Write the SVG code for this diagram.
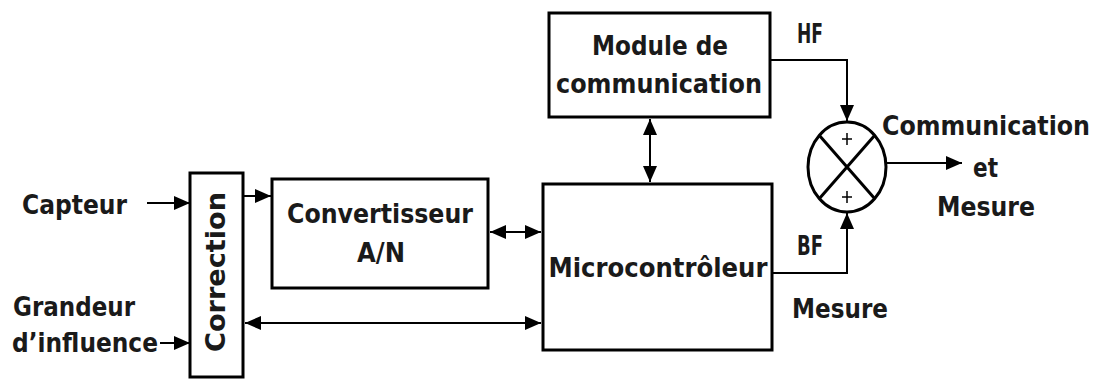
<svg xmlns="http://www.w3.org/2000/svg" width="1096" height="381" viewBox="0 0 1096 381">
<defs>
<style>
.box{fill:#fff;stroke:#000;stroke-width:3}
.t{font-family:"DejaVu Sans Condensed","DejaVu Sans","Liberation Sans",sans-serif;font-stretch:condensed;font-weight:bold;font-size:27px;fill:#1a1a1a}
.c{stroke:#000;stroke-width:2;fill:none}
.m{marker-end:url(#ah)}
.mm{marker-start:url(#ah);marker-end:url(#ah)}
</style>
<marker id="ah" markerUnits="userSpaceOnUse" markerWidth="17" markerHeight="14" refX="16" refY="7" orient="auto-start-reverse">
<path d="M0,0 L16,7 L0,14 z" fill="#000"/>
</marker>
</defs>
<rect width="1096" height="381" fill="#fff"/>

<g id="connectors">
<line class="c m" x1="147" y1="203" x2="190" y2="203"/>
<line class="c m" x1="160" y1="343" x2="190" y2="343"/>
<line class="c m" x1="243" y1="196" x2="271" y2="196"/>
<line class="c mm" x1="490" y1="232" x2="541" y2="232"/>
<line class="c mm" x1="245" y1="323" x2="541" y2="323"/>
<line class="c mm" x1="650" y1="119" x2="650" y2="182"/>
<path class="c m" d="M770,60 H847 V121"/>
<path class="c m" d="M772,273 H847 V213"/>
<line class="c m" x1="886" y1="163" x2="962" y2="163"/>
</g>

<g id="labels">
<text class="t" x="22" y="214" textLength="105" lengthAdjust="spacingAndGlyphs">Capteur</text>
<text class="t" x="13" y="316" textLength="122" lengthAdjust="spacingAndGlyphs">Grandeur</text>
<text class="t" x="12" y="352" textLength="146" lengthAdjust="spacingAndGlyphs">d’influence</text>
<text class="t" x="797" y="43" textLength="26" lengthAdjust="spacingAndGlyphs">HF</text>
<text class="t" x="797" y="255" textLength="26" lengthAdjust="spacingAndGlyphs">BF</text>
<text class="t" x="792" y="318" textLength="96" lengthAdjust="spacingAndGlyphs">Mesure</text>
<text class="t" x="882" y="135" textLength="208" lengthAdjust="spacingAndGlyphs">Communication</text>
<text class="t" x="973" y="177" textLength="25" lengthAdjust="spacingAndGlyphs">et</text>
<text class="t" x="937" y="216" textLength="98" lengthAdjust="spacingAndGlyphs">Mesure</text>
</g>

<g id="correction">
<rect class="box" x="190" y="173" width="53" height="204"/>
<text class="t" transform="translate(225,272) rotate(-90)" text-anchor="middle" textLength="160" lengthAdjust="spacingAndGlyphs">Correction</text>
</g>

<g id="convertisseur">
<rect class="box" x="272" y="179" width="216" height="109"/>
<text class="t" x="380" y="223" text-anchor="middle" textLength="186" lengthAdjust="spacingAndGlyphs">Convertisseur</text>
<text class="t" x="381" y="262" text-anchor="middle" textLength="48" lengthAdjust="spacingAndGlyphs">A/N</text>
</g>

<g id="microcontroleur">
<rect class="box" x="543" y="184" width="229" height="166"/>
<text class="t" x="658" y="277" text-anchor="middle" textLength="219" lengthAdjust="spacingAndGlyphs">Microcontrôleur</text>
</g>

<g id="module">
<rect class="box" x="549" y="13" width="221" height="104"/>
<text class="t" x="660" y="55" text-anchor="middle" textLength="136" lengthAdjust="spacingAndGlyphs">Module de</text>
<text class="t" x="659" y="93" text-anchor="middle" textLength="206" lengthAdjust="spacingAndGlyphs">communication</text>
</g>

<g id="sommateur">
<ellipse cx="847" cy="167" rx="39" ry="45" fill="#fff" stroke="#000" stroke-width="3"/>
<line x1="819" y1="135" x2="875" y2="199" stroke="#000" stroke-width="3"/>
<line x1="875" y1="135" x2="819" y2="199" stroke="#000" stroke-width="3"/>
<path d="M842,139 H852 M847,133 V145 M842,197 H852 M847,191 V203" stroke="#000" stroke-width="1.5"/>
</g>
</svg>
